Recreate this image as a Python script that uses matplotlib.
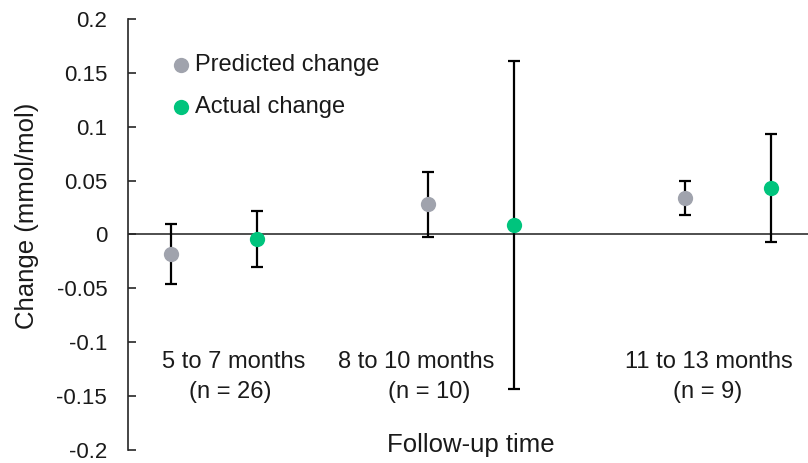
import matplotlib
matplotlib.use("Agg")
import matplotlib.pyplot as plt

plt.rcParams['font.family'] = ['Liberation Sans', 'DejaVu Sans']

# Follow-up groups (label line 1, line 2)
group_names = ["5 to 7 months", "8 to 10 months", "11 to 13 months"]
group_counts = ["(n = 26)", "(n = 10)", "(n = 9)"]
name_x = [1.735, 3.86, 7.277]
count_x = [1.69, 4.01, 7.254]

# Predicted change (mmol/mol) with lower/upper bounds
pred_x = [1, 4, 7]
pred_val = [-0.018, 0.028, 0.034]
pred_low = [-0.046, -0.002, 0.018]
pred_high = [0.010, 0.058, 0.050]

# Actual change (mmol/mol) with lower/upper bounds
act_x = [2, 5, 8]
act_val = [-0.004, 0.009, 0.043]
act_low = [-0.030, -0.143, -0.007]
act_high = [0.022, 0.161, 0.093]

yticks = [-0.2, -0.15, -0.1, -0.05, 0, 0.05, 0.1, 0.15, 0.2]
ytick_labels = ["-0.2", "-0.15", "-0.1", "-0.05", "0", "0.05", "0.1", "0.15", "0.2"]

grey = "#A0A3AD"
green = "#00C47D"
text_color = "#1a1a1a"

fig = plt.figure(figsize=(8.08, 4.63), dpi=100)
ax = fig.add_axes([128 / 808, 1 - 450 / 463, 1 - 128 / 808, (450 - 19) / 463])

ax.axhline(0, color="#404040", lw=1.3, zorder=1)


def draw(xs, vals, lows, highs, color):
    yerr = [[v - l for v, l in zip(vals, lows)], [h - v for v, h in zip(vals, highs)]]
    ax.errorbar(xs, vals, yerr=yerr, fmt="none", ecolor="black", elinewidth=1.6,
                capsize=4.5, capthick=1.6, zorder=2)
    ax.plot(xs, vals, "o", color=color, markersize=11, markeredgewidth=0, zorder=3)


draw(pred_x, pred_val, pred_low, pred_high, grey)
draw(act_x, act_val, act_low, act_high, green)

ax.set_xlim(0.498, 8.43)
ax.set_ylim(-0.2, 0.2)
ax.set_yticks(yticks)
ax.set_yticklabels(ytick_labels, fontsize=16)
ax.tick_params(axis="y", direction="in", length=6, width=1.2, pad=15,
               labelcolor=text_color, color="#262626")
ax.set_xticks([])
for s in ["top", "right", "bottom"]:
    ax.spines[s].set_visible(False)
ax.spines["left"].set_linewidth(1.2)
ax.spines["left"].set_color("#262626")

# Group labels
for name, cnt, xn, xc in zip(group_names, group_counts, name_x, count_x):
    ax.text(xn, -0.1183, name, ha="center", va="center", fontsize=17, color=text_color)
    ax.text(xc, -0.146, cnt, ha="center", va="center", fontsize=17, color=text_color)

# Legend: marker plus label
ax.plot([1.12], [0.157], "o", color=grey, markersize=11, markeredgewidth=0)
ax.text(1.285, 0.157, "Predicted change", va="center", fontsize=17, color=text_color)
ax.plot([1.12], [0.118], "o", color=green, markersize=11, markeredgewidth=0)
ax.text(1.285, 0.118, "Actual change", va="center", fontsize=17, color=text_color)

fig.text(27 / 808, 1 - 216 / 463, "Change (mmol/mol)", rotation=90, ha="center",
         va="center", fontsize=18.5, color=text_color)
fig.text(471 / 808, 1 - 445 / 463, "Follow-up time", ha="center", va="center",
         fontsize=18.5, color=text_color)

fig.savefig("out.png", dpi=100)
